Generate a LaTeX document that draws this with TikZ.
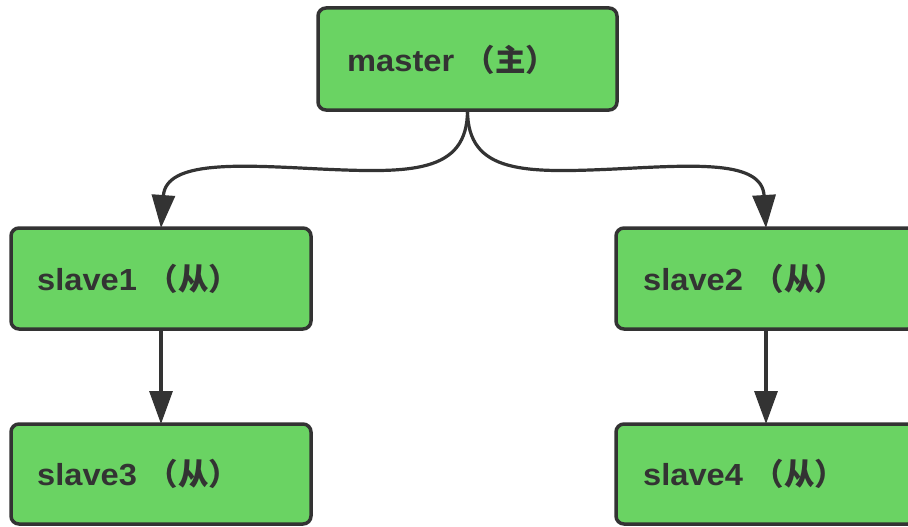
\documentclass[tikz,border=0pt]{standalone}
\usepackage{fontspec}
\setmainfont{Liberation Sans}[FakeStretch=1.07]
\newfontfamily\cjk{Noto Sans CJK SC}
\usetikzlibrary{arrows.meta}
\definecolor{boxgreen}{RGB}{106,211,99}
\definecolor{ink}{RGB}{51,51,51}
\newcommand{\lbl}[2]{{\bfseries #1}\hspace{0.35em}{\cjk\bfseries （#2）}}
\begin{document}
\begin{tikzpicture}[x=1pt,y=-1pt,
  box/.style={draw=ink,line width=3.5pt,fill=boxgreen,rounded corners=8pt},
  lab/.style={anchor=west,text=ink,font=\fontsize{30.5}{36}\selectfont,inner sep=0pt},
  conn/.style={draw=ink,line width=3.2pt,-{Triangle[length=33pt,width=23pt]}}]
\useasboundingbox (0,0) rectangle (908,527);
\path[box] (318,8) rectangle (617,110);
\path[box] (11,228) rectangle (311,329);
\path[box] (616,228) rectangle (916,329);
\path[box] (11,424) rectangle (311,524);
\path[box] (616,424) rectangle (916,524);
\coordinate (mb) at (467.5,110);
\coordinate (s1t) at (161,228);
\coordinate (s1b) at (161,329);
\coordinate (s3t) at (161,424);
\coordinate (s2t) at (766,228);
\coordinate (s2b) at (766,329);
\coordinate (s4t) at (766,424);
\node[lab] (m) at (347,60) {\lbl{master}{主}};
\node[lab] (s1) at (37,279) {\lbl{slave1}{从}};
\node[lab] (s2) at (643,279) {\lbl{slave2}{从}};
\node[lab] (s3) at (37,474) {\lbl{slave3}{从}};
\node[lab] (s4) at (643,474) {\lbl{slave4}{从}};
\draw[conn] (mb) .. controls (467.5,174) and (410,173) .. (320,169) .. controls (240,165) and (166,160) .. (s1t);
\draw[conn] (mb) .. controls (467.5,174) and (525,173) .. (615,169) .. controls (695,165) and (762,160) .. (s2t);
\draw[conn] (s1b) -- (s3t);
\draw[conn] (s2b) -- (s4t);
\end{tikzpicture}
\end{document}
